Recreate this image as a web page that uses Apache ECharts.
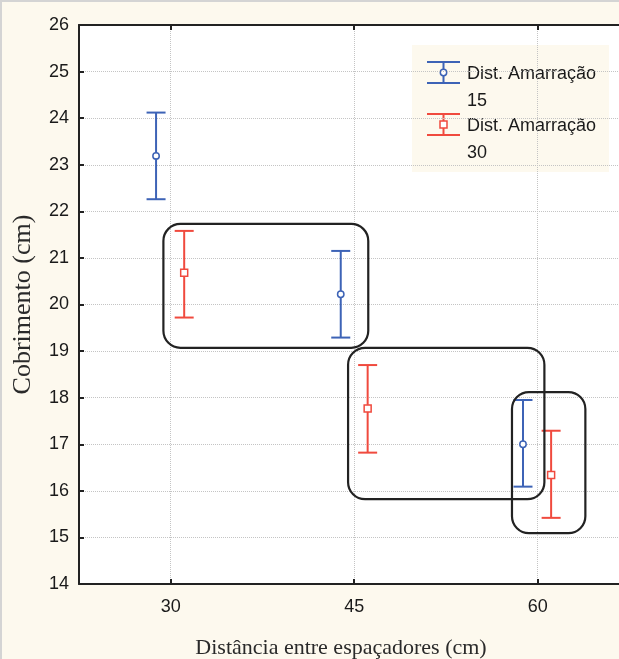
<!DOCTYPE html>
<html>
<head>
<meta charset="utf-8">
<script src="https://cdn.jsdelivr.net/npm/echarts@6/dist/echarts.min.js"></script>
<style>
  html, body { margin: 0; padding: 0; background: #FDF9EE; }
  #chart { width: 619px; height: 659px; }
  #frame { position: absolute; left: 0; top: 0; width: 619px; height: 659px; box-sizing: border-box;
           border-left: 2px solid #d4d4d4; border-top: 2px solid #d4d4d4; pointer-events: none; }
</style>
</head>
<body>
<div id="chart"></div>
<div id="frame"></div>
<script>
// ---- data ----
const xTicks = [30, 45, 60];
const seriesNames = ['Dist. Amarração 15', 'Dist. Amarração 30'];
const legendLabels = ['Dist. Amarração\n15', 'Dist. Amarração\n30'];
// each point: [x, mean, lower, upper]
const bluePoints = [
  [28.8, 23.19, 22.26, 24.12],
  [43.9, 20.22, 19.29, 21.15],
  [58.8, 17.00, 16.09, 17.95]
];
const redPoints = [
  [31.1, 20.68, 19.72, 21.58],
  [46.1, 17.77, 16.82, 18.70],
  [61.1, 16.34, 15.42, 17.29]
];
// annotation boxes in data coords: [xLeft, yTop, xRight, yBottom]
const boxes = [
  [29.4, 21.73, 46.15, 19.07],
  [44.5, 19.07, 60.55, 15.82],
  [57.9, 18.12, 63.9, 15.09]
];

const BLUE = '#3D63B6';
const RED = '#F04A3E';
const CREAM = '#FDF9EE';

function errorBar(marker, color) {
  return function (params, api) {
    const x = api.value(0), m = api.value(1), lo = api.value(2), hi = api.value(3);
    const pH = api.coord([x, hi]), pL = api.coord([x, lo]), pM = api.coord([x, m]);
    const hw = 9.5;
    const st = { stroke: color, lineWidth: 2, fill: null };
    const children = [
      { type: 'line', shape: { x1: pH[0], y1: pH[1], x2: pL[0], y2: pL[1] }, style: st },
      { type: 'line', shape: { x1: pH[0] - hw, y1: pH[1], x2: pH[0] + hw, y2: pH[1] }, style: st },
      { type: 'line', shape: { x1: pL[0] - hw, y1: pL[1], x2: pL[0] + hw, y2: pL[1] }, style: st }
    ];
    if (marker === 'circle') {
      children.push({ type: 'circle', shape: { cx: pM[0], cy: pM[1], r: 3.2 },
        style: { fill: '#fff', stroke: color, lineWidth: 1.5 } });
    } else {
      children.push({ type: 'rect', shape: { x: pM[0] - 3.5, y: pM[1] - 3.5, width: 7, height: 7 },
        style: { fill: '#fff', stroke: color, lineWidth: 1.5 } });
    }
    return { type: 'group', children };
  };
}

function boxRender(params, api) {
  const p1 = api.coord([api.value(0), api.value(1)]);
  const p2 = api.coord([api.value(2), api.value(3)]);
  return {
    type: 'rect',
    shape: { x: p1[0], y: p1[1], width: p2[0] - p1[0], height: p2[1] - p1[1], r: 17 },
    style: { fill: null, stroke: '#222', lineWidth: 2.2 }
  };
}

function legendItem(y, color, marker, label) {
  const st = { stroke: color, lineWidth: 2 };
  const cx = 443.5, cy = y + 10.5;
  const m = marker === 'circle'
    ? { type: 'circle', shape: { cx, cy, r: 3.2 }, style: { fill: '#fff', stroke: color, lineWidth: 1.5 } }
    : { type: 'rect', shape: { x: cx - 3.5, y: cy - 3.5, width: 7, height: 7 }, style: { fill: '#fff', stroke: color, lineWidth: 1.5 } };
  return [
    { type: 'line', shape: { x1: 427, y1: y, x2: 460, y2: y }, style: st },
    { type: 'line', shape: { x1: 427, y1: y + 21, x2: 460, y2: y + 21 }, style: st },
    { type: 'line', shape: { x1: cx, y1: y, x2: cx, y2: y + 21 }, style: st },
    m,
    { type: 'text', x: 467, y: cy - 12,
      style: { text: label, fill: '#1a1a1a', font: '18px "Liberation Sans", Arial, sans-serif',
               lineHeight: 27, verticalAlign: 'top', textVerticalAlign: 'top' } }
  ];
}

const chart = echarts.init(document.getElementById('chart'), null, { renderer: 'canvas' });

const tickLabelStyle = { fontSize: 18, color: '#1a1a1a', fontFamily: '"Liberation Sans", Arial, sans-serif' };

chart.setOption({
  backgroundColor: CREAM,
  animation: false,
  grid: { left: 79, right: 0, top: 25, bottom: 75, show: true, backgroundColor: '#ffffff', borderWidth: 0,
          containLabel: false, outerBoundsMode: 'none' },
  xAxis: [{
    type: 'value', min: 22.5, max: 66.65, position: 'bottom',
    name: 'Distância entre espaçadores (cm)', nameLocation: 'middle', nameGap: 53,
    nameTextStyle: { fontFamily: '"Liberation Serif", "Times New Roman", serif', fontSize: 22, color: '#2a2a2a',
                     padding: [0, 16, 0, 0] },
    axisLine: { show: true, onZero: false, lineStyle: { color: '#222', width: 2 } },
    axisTick: { show: true, inside: true, length: 5, customValues: xTicks, lineStyle: { color: '#222', width: 2 } },
    axisLabel: Object.assign({ customValues: xTicks, margin: 14 }, tickLabelStyle),
    splitLine: { show: true, lineStyle: { color: '#c4c4c4', type: 'dotted', width: 1 } }
  }, {
    type: 'value', min: 22.5, max: 66.65, position: 'top',
    axisLine: { show: true, onZero: false, lineStyle: { color: '#222', width: 2 } },
    axisTick: { show: true, inside: true, length: 5, customValues: xTicks, lineStyle: { color: '#222', width: 2 } },
    axisLabel: { show: false },
    splitLine: { show: false }
  }],
  yAxis: {
    type: 'value', min: 14, max: 26, interval: 1,
    name: 'Cobrimento (cm)', nameLocation: 'middle', nameGap: 43,
    nameTextStyle: { fontFamily: '"Liberation Serif", "Times New Roman", serif', fontSize: 26, color: '#2a2a2a' },
    axisLine: { show: true, onZero: false, lineStyle: { color: '#222', width: 2 } },
    axisTick: { show: true, inside: true, length: 5, lineStyle: { color: '#222', width: 2 } },
    axisLabel: Object.assign({ margin: 10 }, tickLabelStyle),
    splitLine: { show: true, lineStyle: { color: '#c4c4c4', type: 'dotted', width: 1 } }
  },
  series: [
    { name: seriesNames[0], type: 'custom', xAxisIndex: 0, renderItem: errorBar('circle', BLUE),
      encode: { x: 0, y: [1, 2, 3] }, data: bluePoints, z: 3 },
    { name: seriesNames[1], type: 'custom', xAxisIndex: 0, renderItem: errorBar('square', RED),
      encode: { x: 0, y: [1, 2, 3] }, data: redPoints, z: 3 },
    { name: 'boxes', type: 'custom', xAxisIndex: 0, renderItem: boxRender,
      encode: { x: [0, 2], y: [1, 3] }, data: boxes, z: 4, silent: true }
  ],
  graphic: [{
    type: 'group', z: 100,
    children: [
      { type: 'rect', shape: { x: 412, y: 45, width: 197, height: 127 }, style: { fill: CREAM } }
    ].concat(legendItem(62, BLUE, 'circle', legendLabels[0]))
     .concat(legendItem(114, RED, 'square', legendLabels[1]))
  }]
});
</script>
</body>
</html>
